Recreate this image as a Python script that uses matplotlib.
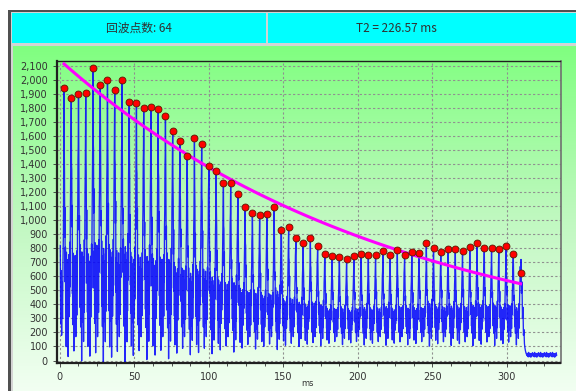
import numpy as np
import matplotlib
matplotlib.use("Agg")
import matplotlib.pyplot as plt
from matplotlib.patches import Rectangle
from matplotlib.colors import LinearSegmentedColormap
from matplotlib.ticker import MultipleLocator, FuncFormatter

# CPMG echo train
echo_count = 64
t2_ms = 226.57
fit_amp = 2140
first_echo_ms = 2.9
echo_spacing_ms = 4.86

echo_peaks = [
    1940, 1870, 1895, 1905, 2085, 1965, 1995, 1925, 2000, 1843,
    1832, 1802, 1808, 1791, 1742, 1636, 1564, 1460, 1585, 1541,
    1385, 1353, 1267, 1268, 1183, 1095, 1050, 1040, 1045, 1090,
    930, 950, 870, 836, 873, 816, 762, 745, 736, 724,
    745, 762, 752, 752, 781, 750, 786, 750, 776, 763,
    840, 802, 774, 792, 795, 781, 807, 840, 802, 802,
    792, 819, 758, 624,
]

# raw samples between echoes, relative to the echo peak (index 0 = peak)
shape_a = [1.00, 0.76, 0.66, 0.40, 0.52, 0.22, 0.36, 0.10, 0.30, -0.04,
           0.34, 0.15, 0.26, 0.06, 0.31, 0.18, 0.24, -0.08, 0.28, 0.12,
           0.33, 0.08, 0.22, 0.16, 0.38, 0.20, 0.45, 0.58, 0.70, 0.82]
shape_b = [1.00, 0.72, 0.70, 0.46, 0.55, 0.18, 0.32, 0.05, 0.35, 0.14,
           0.27, -0.06, 0.30, 0.19, 0.25, 0.07, 0.34, 0.11, 0.23, 0.00,
           0.29, 0.16, 0.26, 0.09, 0.36, 0.24, 0.48, 0.55, 0.74, 0.80]
shape_c = [1.00, 0.80, 0.62, 0.44, 0.50, 0.25, 0.38, 0.12, 0.28, 0.04,
           0.32, 0.20, 0.24, -0.10, 0.35, 0.13, 0.27, 0.06, 0.30, 0.17,
           0.21, -0.02, 0.33, 0.10, 0.40, 0.22, 0.42, 0.60, 0.68, 0.85]
body_floor = 170

lead_times = [0.4, 0.7, 1.0, 1.3, 1.6, 1.9, 2.2, 2.5]
lead_vals = [820, 260, 640, 180, 560, 300, 700, 900]

after_vals = [720, 480, 560, 300, 380, 180, 220, 120, 90, 70, 55, 45]
tail_noise = [38, 52, 30, 46, 26, 58, 34, 44, 28, 50, 36, 24, 48, 40, 32, 55]
tail_end_ms = 333.5

echo_times = first_echo_ms + echo_spacing_ms * np.arange(echo_count)

# build the raw trace
shapes = [shape_a, shape_b, shape_c]
dt = echo_spacing_ms / len(shape_a)
trace_t = list(lead_times)
trace_v = list(lead_vals)
for k, (tk, peak) in enumerate(zip(echo_times, echo_peaks)):
    shape = shapes[k % 3]
    if k == echo_count - 1:
        shape = shape[:1]
    for j, s in enumerate(shape):
        trace_t.append(tk + j * dt)
        trace_v.append(body_floor + (peak - body_floor) * s)
t_last = echo_times[-1]
for j, v in enumerate(after_vals):
    trace_t.append(t_last + (j + 1) * 0.33)
    trace_v.append(v)
t = trace_t[-1] + 0.25
j = 0
while t <= tail_end_ms:
    trace_t.append(t)
    trace_v.append(tail_noise[j % len(tail_noise)])
    t += 0.25
    j += 1

fit_vals = fit_amp * np.exp(-echo_times / t2_ms)

W, H = 576, 391
fig = plt.figure(figsize=(W / 100, H / 100), dpi=100)
fig.patch.set_facecolor("white")

def px_rect(x0, y0, x1, y1, color, z=-5):
    fig.patches.append(Rectangle((x0 / W, 1 - y1 / H), (x1 - x0) / W, (y1 - y0) / H,
                                 transform=fig.transFigure, facecolor=color,
                                 edgecolor="none", zorder=z))

# window frame and header cells
px_rect(8, 10, W, H, "#d4d4d4")
px_rect(8, 10, 11, H, "#505050")
px_rect(8, 10, W, 12, "#505050")
px_rect(12, 13, 266, 43, "#00ffff")
px_rect(268, 13, W, 43, "#00ffff")
fig.text(139 / W, 1 - 28 / H, "回波点数: 64", ha="center", va="center", fontsize=8.5,
         color="#303030", family=["Noto Sans CJK SC", "DejaVu Sans"])
fig.text(396 / W, 1 - 28 / H, "T2 = 226.57 ms", ha="center", va="center", fontsize=8.5,
         color="#303030", family=["Noto Sans CJK SC", "DejaVu Sans"])

# green gradient panel
bg = fig.add_axes([13 / W, 0, (W - 13) / W, 1 - 46 / H], zorder=0)
green = LinearSegmentedColormap.from_list("panel", ["#f2fff2", "#c0f8c0", "#80ff80"])
bg.imshow(np.linspace(0, 1, 256)[::-1].reshape(-1, 1), aspect="auto", cmap=green,
          extent=[0, 1, 0, 1])
bg.axis("off")

ax = fig.add_axes([57 / W, 1 - 362.5 / H, (560.5 - 57) / W, (362.5 - 60.5) / H], zorder=1)
ax.set_facecolor("none")

ax.plot(trace_t, trace_v, color="#0000ff", lw=0.95, alpha=0.85, zorder=2)
ax.plot(echo_times, fit_vals, color="#ff00ff", lw=2.2, zorder=3)
ax.plot(echo_times, echo_peaks, "o", color="#ff0000", markeredgecolor="#5a1a00",
        markeredgewidth=0.6, markersize=5, zorder=4)

ax.set_xlim(-1.8, 335.9)
ax.set_ylim(-14, 2137)
ax.xaxis.set_major_locator(MultipleLocator(50))
ax.xaxis.set_minor_locator(MultipleLocator(12.5))
ax.yaxis.set_major_locator(MultipleLocator(100))
ax.yaxis.set_major_formatter(FuncFormatter(lambda v, p: f"{int(v):,}"))
ax.grid(True, which="major", color="#909090", linestyle=(0, (2, 2)), lw=0.8)
ax.tick_params(axis="both", labelsize=7, colors="#333333", length=3, width=0.6)
ax.tick_params(axis="x", which="minor", length=2, width=0.6, color="#333333")
fig.text(308 / W, 1 - 383 / H, "ms", ha="center", va="center", fontsize=6, color="#333333")

for side in ["left", "bottom"]:
    ax.spines[side].set_color("#202020")
    ax.spines[side].set_linewidth(1.6)
ax.spines["top"].set_color("#202020")
ax.spines["top"].set_linewidth(1.0)
ax.spines["right"].set_color("#707070")
ax.spines["right"].set_linewidth(1.2)

fig.savefig("out.png", dpi=100)
